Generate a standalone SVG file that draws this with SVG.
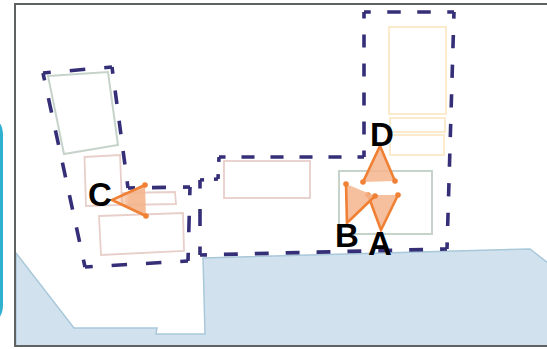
<svg xmlns="http://www.w3.org/2000/svg" width="547" height="349" viewBox="0 0 547 349">
<style>
.frame{fill:none;stroke:#5f6263;stroke-width:2}
.water{fill:#d1e2ee;stroke:#a9c8da;stroke-width:1.5}
.y{fill:#fff;stroke:#fbe8c4;stroke-width:1.7}
.g{fill:#fff;stroke:#c6d3cb;stroke-width:2}
.p{fill:#fff;stroke:#e8cfca;stroke-width:1.8}
.d{fill:none;stroke:#352f78;stroke-width:3.6;stroke-dasharray:.9 1.1;stroke-dashoffset:.45}
.tri{fill:#f4b48c;fill-opacity:.85;stroke:none}
.e{fill:none;stroke:#ef8034;stroke-width:2.6;stroke-linecap:round}
.dot{fill:#ef8034}
.l{font-family:"Liberation Sans",Arial,sans-serif;font-weight:700;font-size:33px;fill:#000;text-anchor:middle}
</style>
<defs>
<linearGradient id="fadeC" gradientUnits="userSpaceOnUse" x1="114" y1="0" x2="129" y2="0">
<stop offset="0" stop-color="#f4b48c" stop-opacity=".1"/><stop offset="1" stop-color="#f4b48c" stop-opacity=".9"/>
</linearGradient>
</defs>
<rect width="547" height="349" fill="#fff"/>
<path d="M-10 118Q3 120 3 135V305Q3 320 -10 322Z" fill="#2fb0cf"/>
<g id="water"><path class="water" d="M16 253L74 328L157 328L156 334L205 334L203 258L530 249L548 263V346H16Z"/></g>
<path class="frame" d="M548 4H15V346H548"/>
<g id="zone-left">
<path class="g" d="M48 76L108 72L118 145L64 154Z"/>
<path class="p" d="M84.500 157L120 155L122 205L86 206Z"/>
<path class="p" d="M122 193L175 192L176 204L122 205Z"/>
<path class="p" d="M99 216L183 213L184 251L101 255Z"/>
</g>
<g id="zone-middle"><rect class="p" x="224" y="161" width="86" height="37"/></g>
<g id="zone-right">
<rect class="y" x="389" y="27" width="57" height="87"/>
<rect class="y" x="390" y="118" width="55" height="14"/>
<rect class="y" x="390" y="135" width="54" height="20"/>
<rect class="g" x="339" y="171" width="93" height="63"/>
</g>
<g id="connectors">
<g id="boundaries">
<path class="d" pathLength="4" d="M43 73L112 67"/>
<path class="d" pathLength="8" d="M112 67L128 188"/>
<path class="d" pathLength="4" d="M128 188L190 187"/>
<path class="d" pathLength="4" d="M190 187L188 261"/>
<path class="d" pathLength="6" d="M188 261L85 267"/>
<path class="d" pathLength="12" d="M85 267L43 73"/>
<path class="d" pathLength="2" d="M218 179L200 180"/>
<path class="d" pathLength="4" d="M200 180L200 255"/>
<path class="d" pathLength="16" d="M200 255L447 249"/>
<path class="d" pathLength="16" d="M447 249L454 12"/>
<path class="d" pathLength="6" d="M454 12L364 12"/>
<path class="d" pathLength="10" d="M364 12L364 157"/>
<path class="d" pathLength="10" d="M364 157L219 157"/>
<path class="d" pathLength="2" d="M219 157L218 179"/>
</g>
</g>
<g id="node-A">
<path class="tri" d="M381 230L368 195L398 195Z"/>
<path class="e" d="M368 195L381 230L398 195"/>
<circle class="dot" cx="368" cy="195" r="2.800"/><circle class="dot" cx="398" cy="195" r="2.800"/>
<text class="l" x="380" y="255">A</text>
</g>
<g id="node-B">
<path class="tri" d="M347 223L346 184L375 196Z"/>
<path class="e" d="M375 196L347 223L346 184"/>
<circle class="dot" cx="346" cy="184" r="2.800"/><circle class="dot" cx="375" cy="196" r="2.800"/>
<text class="l" x="347" y="247">B</text>
</g>
<g id="node-C">
<path fill="url(#fadeC)" d="M112 200L145 185L146 216Z"/>
<path class="e" d="M145 185L112 200L146 216"/>
<circle class="dot" cx="145" cy="185" r="2.800"/><circle class="dot" cx="146" cy="216" r="2.800"/>
<text class="l" x="100" y="205.500">C</text>
</g>
<g id="node-D">
<path class="tri" d="M380 146L363 182L395 181Z"/>
<path class="e" d="M363 182L380 146L395 181"/>
<circle class="dot" cx="363" cy="182" r="2.800"/><circle class="dot" cx="395" cy="181" r="2.800"/>
<text class="l" x="382" y="146">D</text>
</g>
</svg>
